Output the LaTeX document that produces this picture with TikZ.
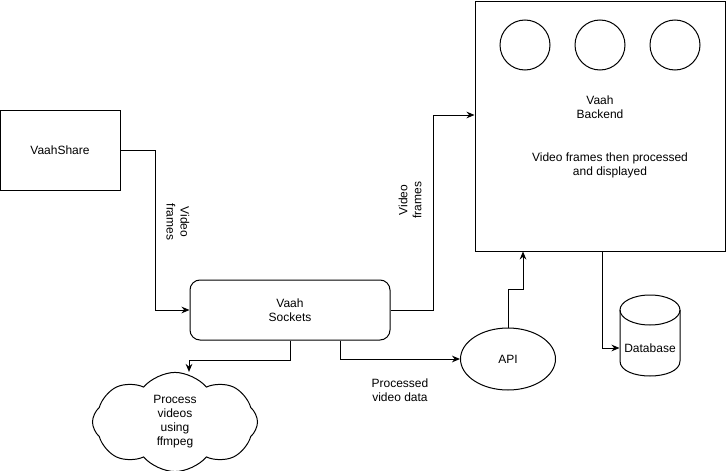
\documentclass[tikz,border=0pt]{standalone}
\usepackage{fontspec}
\setmainfont{Liberation Sans}
\usetikzlibrary{arrows.meta,shapes.geometric,shapes.symbols}

\tikzset{every picture/.style={line width=0.75pt}}
\tikzset{
  box/.style={draw, inner sep=0.75pt, align=center, font=\fontsize{9}{10.5}\selectfont},
  lbl/.style={inner sep=0.75pt, align=center, font=\fontsize{9}{10.5}\selectfont},
  arr/.style={-{Stealth[length=6pt,width=5pt]}}
}

\begin{document}
\begin{tikzpicture}[x=0.75pt,y=0.75pt,yscale=-1,xscale=1]
\useasboundingbox (0,0) rectangle (726,471);

%Shape: Rectangle [id:share]
\node (share) [box, minimum width=90pt, minimum height=60pt] at (60,150) {VaahShare};
%Shape: Rounded Rect [id:sockets]
\node (sockets) [box, rounded corners=7.5pt, minimum width=150pt, minimum height=45pt] at (290,310) {Vaah\\Sockets};
%Shape: Rectangle [id:backend]
\node (backend) [box, minimum width=187.5pt, minimum height=187.5pt] at (600,126) {};
%Shape: Circle [id:c1]
\draw (525,45) circle [radius=25];
%Shape: Circle [id:c2]
\draw (600,45) circle [radius=25];
%Shape: Circle [id:c3]
\draw (675,45) circle [radius=25];
%Shape: Ellipse [id:api]
\node (api) [box, ellipse, minimum width=71.25pt, minimum height=46.5pt] at (508,359) {API};
%Shape: Cloud [id:cloud]
\node (cloud) [box, cloud, cloud puffs=8, cloud puff arc=100, aspect=2, minimum width=123.75pt, minimum height=63.75pt] at (175,422) {Process\\videos\\using\\ffmpeg};
%Shape: Can [id:db]
\draw (650,310) ellipse [x radius=30, y radius=15];
\draw (620,310) -- (620,361) .. controls (620,381) and (680,381) .. (680,361) -- (680,310) ;
\node (db) [lbl, inner sep=0pt, minimum width=45pt] at (650,348) {Database};

%Straight Lines [id:e1]
\draw [arr] (share.east) -- ++(35,0) |- (sockets.west);
%Straight Lines [id:e2]
\draw [arr] (sockets.east) -- ++(43,0) |- ([yshift=-8.25pt]backend.west);
%Straight Lines [id:e3]
\draw [arr] (sockets.south) -- ++(0,20) -| ([xshift=10.5pt]cloud.north);
%Straight Lines [id:e4]
\draw [arr] ([xshift=37.5pt]sockets.south) |- (api.west);
%Straight Lines [id:e5]
\draw [arr] (api.north) -- ++(0,-38) -| ([xshift=-57.75pt]backend.south);
%Straight Lines [id:e6]
\draw [arr] ([xshift=1.5pt]backend.south) |- (db.west);

% Text Node
\node (bname) [lbl] at (600,107) {Vaah\\Backend};
% Text Node
\node (bdesc) [lbl] at (610,165) {Video frames then processed\\and displayed};
% Text Node
\node (lshare) [lbl, rotate=-90] at (178,222) {Video\\frames};
% Text Node
\node (lsock) [lbl, rotate=90] at (410,200) {Video\\frames};
% Text Node
\node (lproc) [lbl] at (400,390) {Processed\\video data};

\end{tikzpicture}
\end{document}
